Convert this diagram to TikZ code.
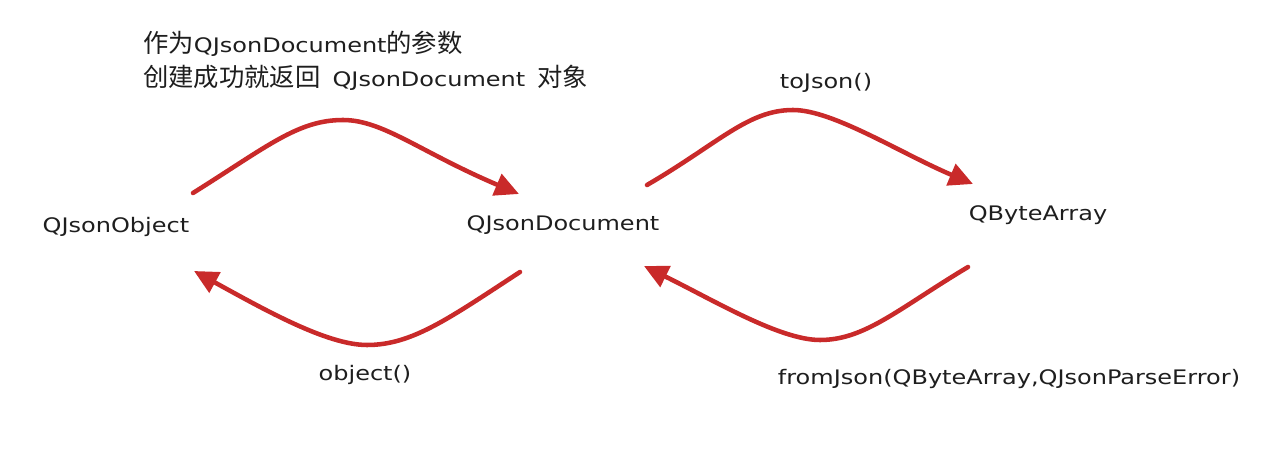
\documentclass[tikz,border=0pt]{standalone}
\usepackage{fontspec}
\setmainfont{DejaVu Sans}[FakeStretch=1.2]
\newfontfamily\cjk{Noto Sans CJK SC}
\usetikzlibrary{arrows.meta}
\definecolor{arrowred}{HTML}{C92A2A}
\definecolor{inkblack}{HTML}{1E1E1E}
\newcommand{\latsize}{\fontsize{15}{18}\selectfont}
\newcommand{\cjksize}{\fontsize{19}{23}\selectfont}
\begin{document}
\begin{tikzpicture}[x=0.75pt,y=-0.75pt,
  lbl/.style={font=\latsize, text=inkblack, inner sep=0pt, anchor=base},
  note/.style={text=inkblack, inner sep=0pt, anchor=base west},
  curvearrow/.style={draw=arrowred, line width=3.4pt, line cap=round,
    -{Triangle[length=18pt,width=17pt]}}
]
\useasboundingbox (0,0) rectangle (1281,470);

% labels
\node[lbl] (obj) at (116,233) {QJsonObject};
\node[lbl] (doc) at (563,231) {QJsonDocument};
\node[lbl] (bytes) at (1038,221) {QByteArray};
\node[lbl] (tojson) at (826,89) {toJson()};
\node[lbl] (objfn) at (365,380) {object()};
\node[lbl] (fromjson) at (1009,384) {fromJson(QByteArray,QJsonParseError)};

\node[note] (note1) at (143,53) {{\cjk\cjksize 作为}{\latsize QJsonDocument}{\cjk\cjksize 的参数}};
\node[note] (note2) at (143,87) {{\cjk\cjksize 创建成功就返回}\hspace{9pt}{\latsize QJsonDocument}\hspace{9pt}{\cjk\cjksize 对象}};

% arrow end points
\coordinate (a1s) at (193,193);
\coordinate (a1p) at (343,120);
\coordinate (a1e) at (519,194);
\coordinate (a2s) at (647,185);
\coordinate (a2p) at (793,110);
\coordinate (a2e) at (973,184);
\coordinate (a3s) at (520,272);
\coordinate (a3p) at (367,345);
\coordinate (a3e) at (194,271);
\coordinate (a4s) at (968,267);
\coordinate (a4p) at (820,340);
\coordinate (a4e) at (644,266);

\draw[curvearrow] (a1s) .. controls (268,146) and (298,120) .. (a1p)
  .. controls (383,120) and (420,152) .. (a1e);
\draw[curvearrow] (a2s) .. controls (719,143) and (748,110) .. (a2p)
  .. controls (833,110) and (900,153) .. (a2e);
\draw[curvearrow] (a3s) .. controls (448,319) and (412,345) .. (a3p)
  .. controls (327,345) and (265,310) .. (a3e);
\draw[curvearrow] (a4s) .. controls (898,309) and (865,340) .. (a4p)
  .. controls (780,340) and (715,301) .. (a4e);
\end{tikzpicture}
\end{document}
